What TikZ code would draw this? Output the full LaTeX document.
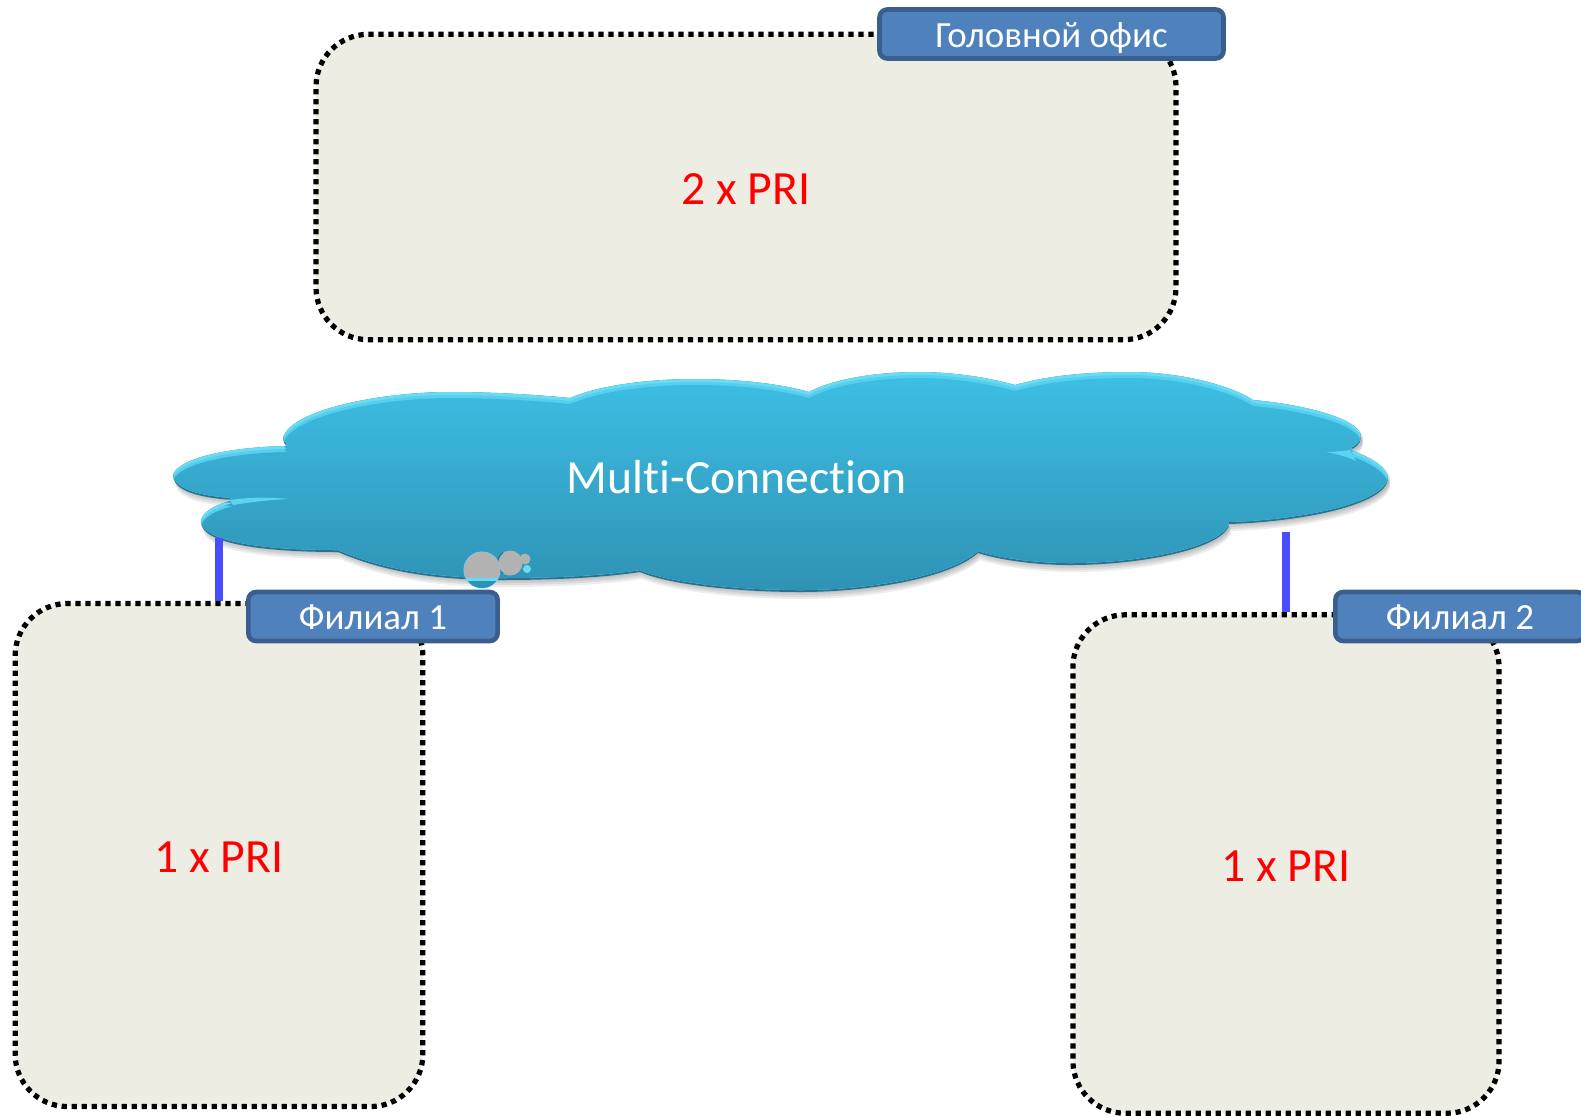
\documentclass[tikz,border=0pt]{standalone}
\usepackage{fontspec}
\setmainfont[Ligatures=NoCommon]{Carlito}
\tikzset{every picture/.style={line width=0.75pt}}
\definecolor{siteFill}{RGB}{238,237,228}
\definecolor{labelFill}{RGB}{79,129,189}
\definecolor{labelEdge}{RGB}{58,95,143}
\definecolor{linkBlue}{RGB}{74,77,255}
\definecolor{cloudTop}{RGB}{61,191,228}
\definecolor{cloudBottom}{RGB}{47,146,181}
\definecolor{cloudRim}{RGB}{40,115,145}
\definecolor{cloudLight}{RGB}{105,220,245}
\tikzset{
  sitebox/.style={draw=black,fill=siteFill,line width=3.4pt,dash pattern={on 3.4pt off 3.1pt},rounded corners=34pt,font=\fontsize{31}{36}\selectfont,text=red,inner sep=0pt,text height=22.6pt,text depth=0pt},
  sitelabel/.style={draw=labelEdge,fill=labelFill,line width=3pt,rounded corners=5pt,font=\fontsize{24}{28}\selectfont,text=white,inner sep=0pt,minimum height=31.8pt,text height=19pt,text depth=2pt},
  sitelink/.style={draw=linkBlue,line width=4.6pt},
  bubble/.style={fill=black!30},
}
\newcommand{\cloudpath}{(173,475) .. controls (178,458) and (230,447) .. (287,446)
  .. controls (284,444) and (283,441) .. (283,438)
  .. controls (290,410) and (380,392) .. (450,392) .. controls (495,392) and (540,395) .. (570,398)
  .. controls (600,385) and (650,379) .. (695,379) .. controls (745,379) and (785,385) .. (809,392)
  .. controls (835,378) and (880,372) .. (918,372) .. controls (955,372) and (990,378) .. (1015,385)
  .. controls (1050,375) and (1090,372) .. (1130,372) .. controls (1180,372) and (1230,385) .. (1253,400)
  .. controls (1300,404) and (1361,418) .. (1361,437) .. controls (1361,444) and (1355,448) .. (1350,450)
  .. controls (1375,458) and (1388,470) .. (1388,478) .. controls (1388,505) and (1300,522) .. (1228,524)
  .. controls (1229,526) and (1229,527) .. (1228,528)
  .. controls (1215,550) and (1140,565) .. (1070,565) .. controls (1035,565) and (1000,560) .. (978,553)
  .. controls (950,578) and (870,592) .. (800,592) .. controls (740,592) and (670,585) .. (640,572)
  .. controls (600,578) and (550,580) .. (500,580) .. controls (430,580) and (380,570) .. (338,552)
  .. controls (270,552) and (201,545) .. (201,522) .. controls (201,512) and (215,505) .. (233,500)
  .. controls (190,497) and (173,488) .. (173,475) -- cycle}

\begin{document}
\begin{tikzpicture}[x=0.65pt,y=0.65pt,yscale=-1,xscale=1]
	\useasboundingbox (0,0) rectangle (1581,1115);

	%Shape: Sites
	\node [sitebox,minimum width=559pt,minimum height=198.5pt] (headOffice) at (746,187) {2 x PRI};
	\node [sitebox,minimum width=265pt,minimum height=327pt] (branchOne) at (219,855) {1 x PRI};
	\node [sitebox,minimum width=277pt,minimum height=324pt] (branchTwo) at (1286,864) {1 x PRI};

	%Shape: Cloud shadow
	\foreach \off in {1,3,5,7}
		\fill [black,opacity=0.07,shift={(2,\off)}] \cloudpath;

	%Shape: Cloud
	\begin{scope}
		\clip \cloudpath;
		\fill [cloudRim] (150,350) rectangle (1400,610);
		\clip [shift={(0,-2)}] \cloudpath;
		\fill [cloudLight] (150,350) rectangle (1400,610);
		\clip [shift={(0,3)}] \cloudpath;
		\fill [cloudLight!55!cloudTop] (150,350) rectangle (1400,610);
		\clip [shift={(0,6)}] \cloudpath;
		\shade [top color=cloudTop,bottom color=cloudBottom] (150,372) rectangle (1400,592);
	\end{scope}
	%Curve Lines
	\fill [cloudLight!70!cloudTop] (230,500) .. controls (250,497) and (270,497) .. (288,499) .. controls (270,500) and (250,502) .. (233,505) -- cycle;
	\fill [cloudLight!70!cloudTop] (1350,450) .. controls (1342,451) and (1334,452) .. (1326,452) .. controls (1336,454) and (1346,456) .. (1356,461) -- cycle;

	% Text Node
	\node [text=white,font=\fontsize{31}{37}\selectfont] (cloudName) at (737,477) {Multi-Connection};

	%Shape: Bubbles
	\fill [cloudLight] (527,569) circle (4);
	\fill [bubble] (525,559) circle (5.5);
	\fill [bubble] (510,563) circle (12.5);
	\begin{scope}
		\clip (490,550) rectangle (503,575);
		\draw [cloudRim] (510,563) circle (12.5);
	\end{scope}
	\fill [cloudLight] (482,570) circle (18.5);
	\begin{scope}
		\clip (482,570) circle (18);
		\fill [bubble] (460,550) rectangle (505,578);
		\fill [cloudBottom] (460,581) rectangle (505,590);
	\end{scope}

	%Straight Lines
	\coordinate (cloudLeft) at (219,538);
	\coordinate (cloudRight) at (1286,532);
	\draw [sitelink] (cloudLeft) -- (branchOne.north);
	\draw [sitelink] (cloudRight) -- (branchTwo.north);

	% Text Node
	\node [sitelabel,minimum width=223.6pt] (headLabel) at (1051.5,34) {Головной офис};
	% Text Node
	\node [sitelabel,minimum width=162pt] (branchOneLabel) at (373,616.5) {Филиал 1};
	% Text Node
	\node [sitelabel,minimum width=162pt] (branchTwoLabel) at (1460,616.5) {Филиал 2};
\end{tikzpicture}
\end{document}
